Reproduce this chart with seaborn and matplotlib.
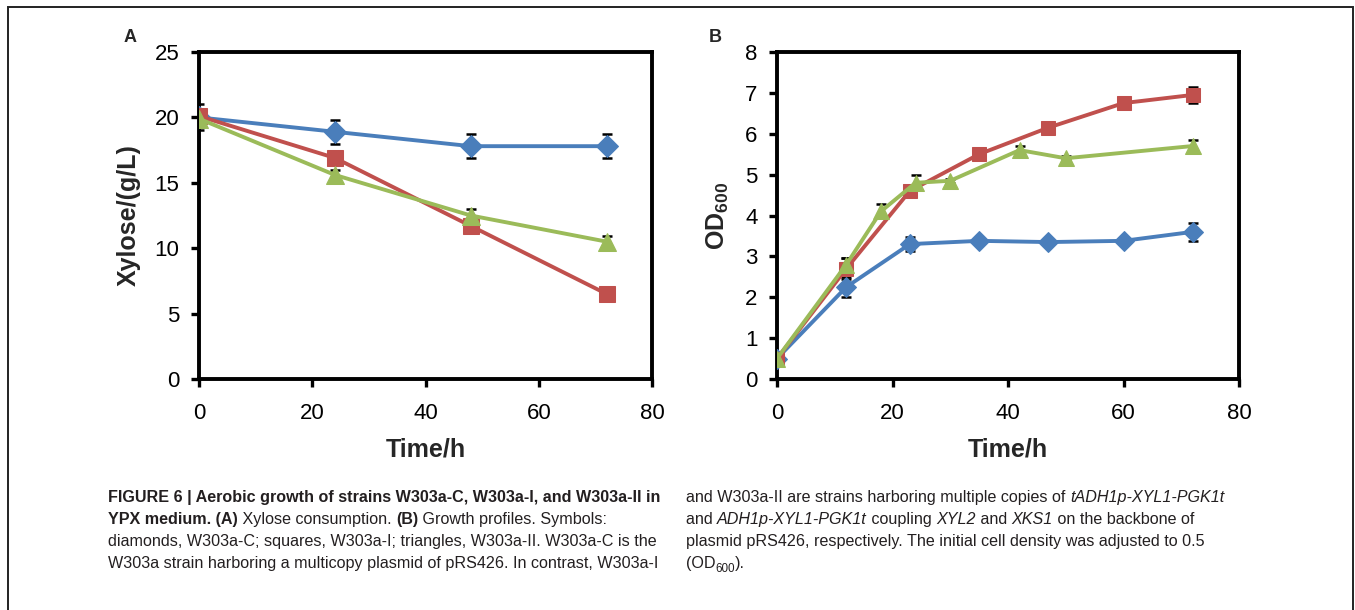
import matplotlib
matplotlib.use("Agg")
import matplotlib.pyplot as plt
import seaborn as sns
import numpy as np
import pandas as pd
from matplotlib import font_manager
from matplotlib.patches import Rectangle

# ---------------- data ----------------
time_a = [0, 24, 48, 72]
xyl_c = [20.0, 18.9, 17.8, 17.8]
xyl_c_err = [1.0, 0.9, 0.9, 0.9]
xyl_i = [20.1, 16.9, 11.7, 6.5]
xyl_i_err = [0.3, 0.2, 0.3, 0.5]
xyl_ii = [19.9, 15.6, 12.5, 10.5]
xyl_ii_err = [0.3, 0.4, 0.5, 0.4]

time_b_c = [0, 12, 23, 35, 47, 60, 72]
od_c = [0.5, 2.25, 3.3, 3.38, 3.35, 3.38, 3.6]
od_c_err = [0.05, 0.25, 0.18, 0.08, 0.08, 0.08, 0.22]
time_b_i = [0, 12, 23, 35, 47, 60, 72]
od_i = [0.5, 2.7, 4.6, 5.5, 6.15, 6.75, 6.95]
od_i_err = [0.05, 0.25, 0.15, 0.05, 0.05, 0.05, 0.2]
time_b_ii = [0, 12, 18, 24, 30, 42, 50, 72]
od_ii = [0.5, 2.8, 4.1, 4.8, 4.85, 5.6, 5.4, 5.7]
od_ii_err = [0.05, 0.15, 0.17, 0.18, 0.05, 0.1, 0.05, 0.15]

x_ticks = [0, 20, 40, 60, 80]
ya_ticks = [0, 5, 10, 15, 20, 25]
yb_ticks = [0, 1, 2, 3, 4, 5, 6, 7, 8]

# ---------------- style ----------------
sns.set_theme(style="white")
plt.rcParams['font.family'] = ['Liberation Sans', 'DejaVu Sans']
plt.rcParams['mathtext.fontset'] = 'custom'
plt.rcParams['mathtext.rm'] = 'Liberation Sans'
plt.rcParams['mathtext.bf'] = 'Liberation Sans:bold'
plt.rcParams['mathtext.it'] = 'Liberation Sans:italic'

cap_font = 'Liberation Sans'

BLUE = '#4a7ebb'
RED = '#c0504d'
GREEN = '#9bbb59'

fig = plt.figure(figsize=(13.55, 6.10), dpi=100)
W, H = 1355, 610

def px_axes(l, r, t, b):
    return fig.add_axes([l / W, 1 - b / H, (r - l) / W, (b - t) / H])

axA = px_axes(199, 652, 52, 379)
axB = px_axes(777, 1239, 52, 379)

def draw_series(ax, x, y, err, color, marker, ms):
    ax.errorbar(x, y, yerr=err, fmt='none', ecolor='black', elinewidth=1.8,
                capsize=3.8, capthick=1.8, zorder=2)
    df = pd.DataFrame({'x': x, 'y': y})
    sns.lineplot(data=df, x='x', y='y', ax=ax, color=color, marker=marker,
                 markersize=ms, markeredgecolor=color, linewidth=2.8,
                 zorder=3, legend=False)

draw_series(axA, time_a, xyl_c, xyl_c_err, BLUE, 'D', 11.5)
draw_series(axA, time_a, xyl_i, xyl_i_err, RED, 's', 11.5)
draw_series(axA, time_a, xyl_ii, xyl_ii_err, GREEN, '^', 13)

draw_series(axB, time_b_c, od_c, od_c_err, BLUE, 'D', 10)
draw_series(axB, time_b_i, od_i, od_i_err, RED, 's', 10.5)
draw_series(axB, time_b_ii, od_ii, od_ii_err, GREEN, '^', 11.5)

for ax, yt, ylab in [(axA, ya_ticks, 'Xylose/(g/L)'),
                     (axB, yb_ticks, r'$\mathbf{OD}_{\mathbf{600}}$')]:
    ax.set_xlim(0, 80)
    ax.set_ylim(0, yt[-1])
    ax.set_xticks(x_ticks)
    ax.set_yticks(yt)
    for s in ax.spines.values():
        s.set_visible(True)
        s.set_color('black')
        s.set_linewidth(2.8)
    ax.tick_params(axis='both', which='major', direction='out', length=6,
                   width=2.4, color='black', labelsize=16, labelcolor='black',
                   left=True, bottom=True)
    ax.tick_params(axis='x', pad=11)
    ax.tick_params(axis='y', pad=8)
    ax.set_xlabel('Time/h', fontsize=18, fontweight='bold', labelpad=10)
    ax.set_ylabel(ylab, fontsize=18, fontweight='bold', labelpad=10)
    ax.set_facecolor('white')

fig.text(130 / W, 1 - 37 / H, 'A', fontsize=13, fontweight='bold', va='center', ha='center')
fig.text(715 / W, 1 - 37 / H, 'B', fontsize=13, fontweight='bold', va='center', ha='center')

# outer frame
fig.patches.append(Rectangle((8 / W, -0.1), (1353 - 8) / W, 1 - 7 / H + 0.1,
                             transform=fig.transFigure, fill=False,
                             edgecolor='#222222', linewidth=1.4, clip_on=False))

# ---------------- caption ----------------
CAP_SIZE = 11.6
CAP_COLOR = '#231f20'
renderer = fig.canvas.get_renderer()

def draw_runs(x0, y0, runs):
    x = x0
    for txt, kind in runs:
        weight = 'bold' if kind == 'b' else 'normal'
        style = 'italic' if kind == 'i' else 'normal'
        size = CAP_SIZE * 0.72 if kind == 'sub' else CAP_SIZE
        dy = -4 if kind == 'sub' else 0
        t = fig.text(x / W, 1 - (y0 - dy) / H, txt, fontsize=size, fontweight=weight,
                     fontstyle=style, family=[cap_font, 'DejaVu Sans'],
                     color=CAP_COLOR, va='baseline', ha='left')
        bb = t.get_window_extent(renderer=renderer)
        x += bb.width

left_lines = [
    [('FIGURE 6 | Aerobic growth of strains W303a-C, W303a-I, and W303a-II in', 'b')],
    [('YPX medium. (A)', 'b'), (' Xylose consumption. ', 'n'), ('(B)', 'b'),
     (' Growth profiles. Symbols:', 'n')],
    [('diamonds, W303a-C; squares, W303a-I; triangles, W303a-II. W303a-C is the', 'n')],
    [('W303a strain harboring a multicopy plasmid of pRS426. In contrast, W303a-I', 'n')],
]
right_lines = [
    [('and W303a-II are strains harboring multiple copies of ', 'n'),
     ('tADH1p-XYL1-PGK1t', 'i')],
    [('and ', 'n'), ('ADH1p-XYL1-PGK1t', 'i'), (' coupling ', 'n'), ('XYL2', 'i'),
     (' and ', 'n'), ('XKS1', 'i'), (' on the backbone of', 'n')],
    [('plasmid pRS426, respectively. The initial cell density was adjusted to 0.5', 'n')],
    [('(OD', 'n'), ('600', 'sub'), (').', 'n')],
]
for i, runs in enumerate(left_lines):
    draw_runs(108, 502 + 22 * i, runs)
for i, runs in enumerate(right_lines):
    draw_runs(686, 502 + 22 * i, runs)

fig.savefig('out.png', dpi=100, facecolor='white')
